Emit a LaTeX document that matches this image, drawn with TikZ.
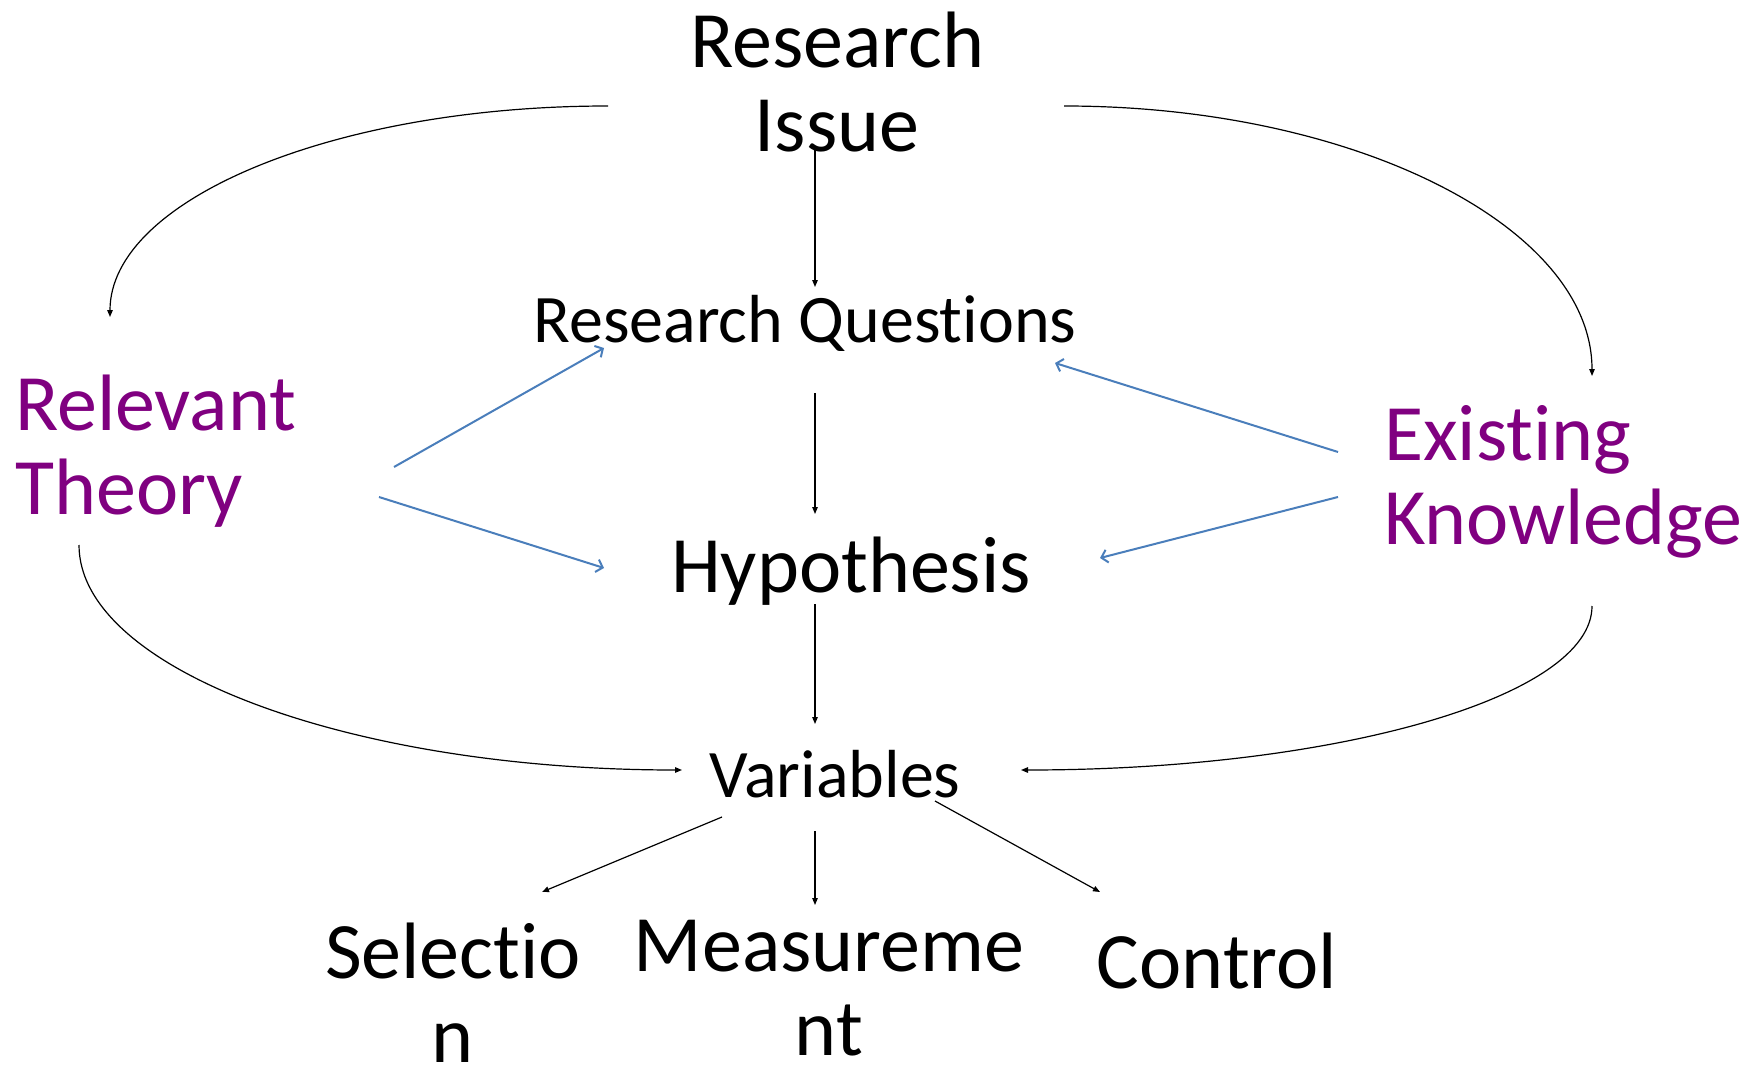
\documentclass[tikz,border=0pt]{standalone}
\usepackage{fontspec}
\setmainfont{Carlito}[Ligatures=NoCommon]
\usetikzlibrary{arrows.meta}
\definecolor{pp}{RGB}{128,0,128}
\definecolor{bl}{RGB}{74,126,187}
\begin{document}
\begin{tikzpicture}[x=1pt,y=-1pt,
 big/.style={font=\fontsize{80}{84}\selectfont, inner sep=0pt, align=center, anchor=base},
 mid/.style={font=\fontsize{68}{72}\selectfont, inner sep=0pt, anchor=base},
 purp/.style={big, text=pp, align=left, anchor=base west},
 blk/.style={line width=1.2pt, -{Triangle[length=7pt,width=5.5pt]}},
 blu/.style={draw=bl, line width=2pt, -{Straight Barb[length=6pt,width=13pt]}}]
\useasboundingbox (0,0) rectangle (1760,1067);
% base anchor of a two-line node is the baseline of its last line
\node[big] (issue) at (837,152) {Research\\Issue};
\node[mid] (rq) at (805,342) {Research Questions};
\node[big] (hyp) at (851,592) {Hypothesis};
\node[mid] (var) at (835,797) {Variables};
\node[purp] (theory) at (15,514) {Relevant\\Theory};
\node[purp] (know) at (1384,544) {Existing\\Knowledge};
\node[big] (sel) at (453,1062) {Selectio\\n};
\node[big] (meas) at (829,1055) {Measureme\\nt};
\node[big] (ctrl) at (1217,988) {Control};
% connector ends
\coordinate (issueS) at (815,149);
\coordinate (rqN) at (815,287);
\coordinate (rqS) at (815,393);
\coordinate (hypN) at (815,514);
\coordinate (hypS) at (815,604);
\coordinate (varN) at (815,724);
\coordinate (varSW) at (722,817);
\coordinate (selN) at (542,892);
\coordinate (varS) at (815,831);
\coordinate (measN) at (815,905);
\coordinate (varSE) at (935,801);
\coordinate (ctrlN) at (1100,892);
\coordinate (issueW) at (608,106);
\coordinate (theoryN) at (110,317);
\coordinate (issueE) at (1064,106);
\coordinate (knowN) at (1592,376);
\coordinate (theoryS) at (79,545);
\coordinate (varW) at (682,770);
\coordinate (knowS) at (1592,606);
\coordinate (varE) at (1021,770);
\coordinate (theoryE1) at (394,467);
\coordinate (rqSW) at (604,348);
\coordinate (theoryE2) at (379,497);
\coordinate (hypW) at (604,568);
\coordinate (knowW1) at (1338,452);
\coordinate (rqSE) at (1055,363);
\coordinate (knowW2) at (1338,497);
\coordinate (hypE) at (1100,558);
% black straight
\draw[blk] (issueS) -- (rqN);
\draw[blk] (rqS) -- (hypN);
\draw[blk] (hypS) -- (varN);
\draw[blk] (varSW) -- (selN);
\draw[blk] (varS) -- (measN);
\draw[blk] (varSE) -- (ctrlN);
% black curves
\draw[blk] (issueW) .. controls (333,106) and (110,200) .. (theoryN);
\draw[blk] (issueE) .. controls (1355,106) and (1592,227) .. (knowN);
\draw[blk] (theoryS) .. controls (79,669) and (349,770) .. (varW);
\draw[blk] (knowS) .. controls (1592,697) and (1336,770) .. (varE);
% blue
\draw[blu] (theoryE1) -- (rqSW);
\draw[blu] (theoryE2) -- (hypW);
\draw[blu] (knowW1) -- (rqSE);
\draw[blu] (knowW2) -- (hypE);
\end{tikzpicture}
\end{document}
